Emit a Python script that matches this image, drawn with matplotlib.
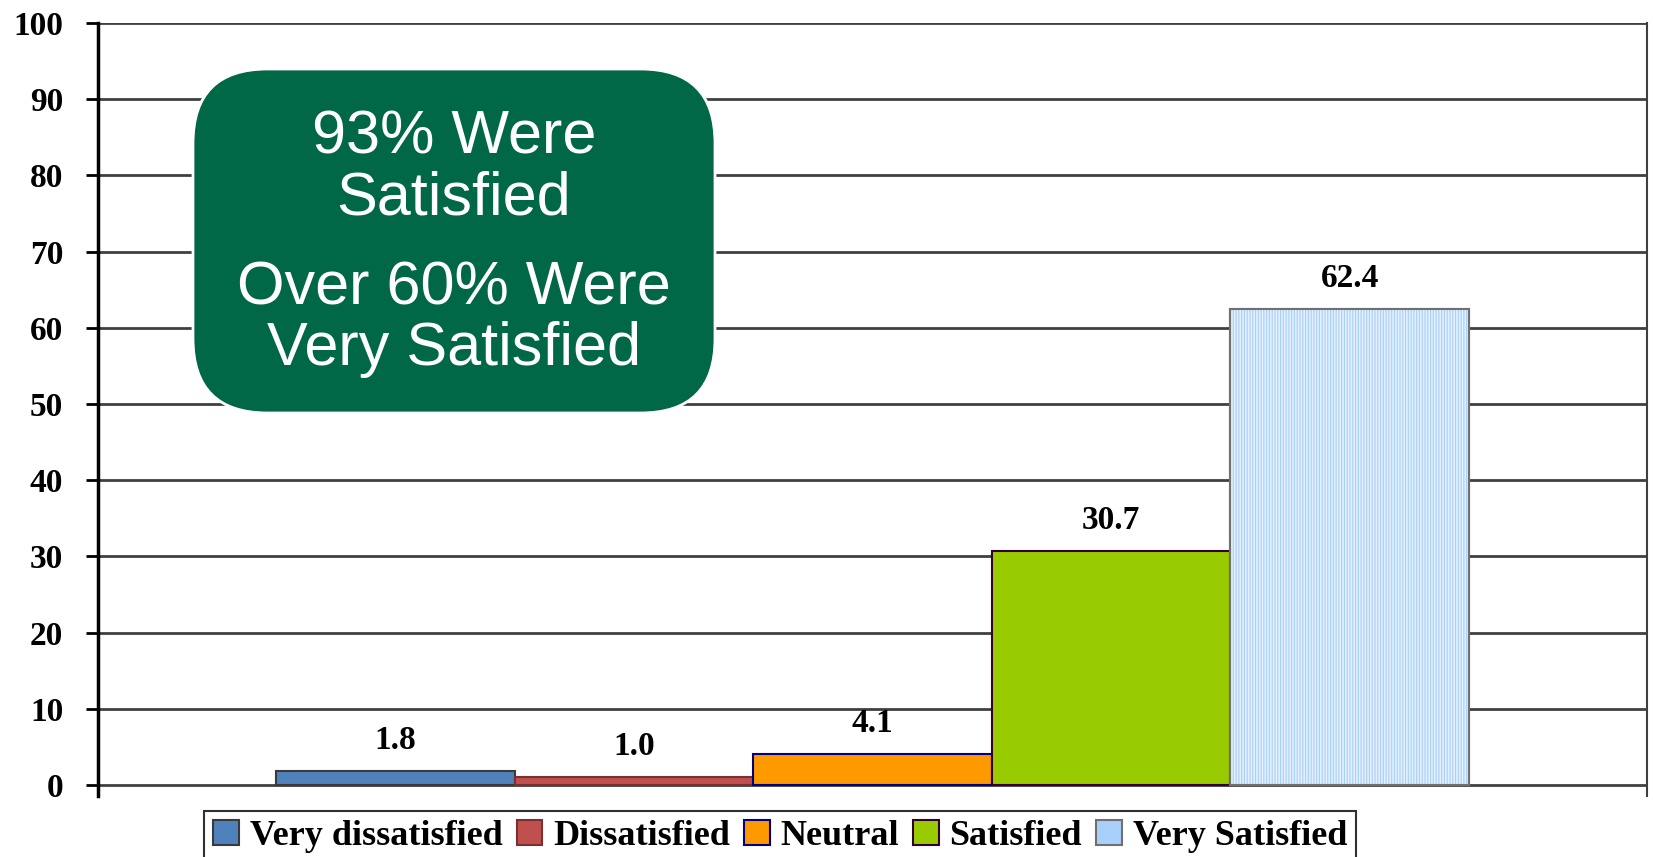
import matplotlib.pyplot as plt
from matplotlib.patches import FancyBboxPatch

# survey responses (%)
categories = ['Very dissatisfied', 'Dissatisfied', 'Neutral', 'Satisfied', 'Very Satisfied']
values = [1.8, 1.0, 4.1, 30.7, 62.4]
value_labels = ['1.8', '1.0', '4.1', '30.7', '62.4']
y_ticks = [0, 10, 20, 30, 40, 50, 60, 70, 80, 90, 100]
callout_lines = ['93% Were', 'Satisfied', 'Over 60% Were', 'Very Satisfied']

face_colors = ['#4F81BD', '#C0504D', '#FF9900', '#99CC00', '#A8D0FA']
edge_colors = ['#3A3A3A', '#7A3030', '#000080', '#330033', '#707070']

serif = 'Liberation Serif'
plt.rcParams['hatch.linewidth'] = 1.2

fig = plt.figure(figsize=(16.53, 8.57), dpi=100)
ax = fig.add_axes([0.0593, 0.0712, 0.9371, 0.902])

width = 0.154
for i, (cat, val) in enumerate(zip(categories, values)):
    x = (i - 2) * width
    ax.bar(x, val, width=width, color=face_colors[i], edgecolor=edge_colors[i],
           linewidth=1.5, label=cat, zorder=3)
    if i == 4:
        # dotted texture of the last bar
        ax.bar(x, val, width=width, color='none', edgecolor='#E4F0FC', hatch='||||||',
               linewidth=0, zorder=3.5)
        ax.bar(x, val, width=width, color='none', edgecolor=edge_colors[i],
               linewidth=1.5, zorder=4)
    ax.annotate(value_labels[i], (x, val), xytext=(0, 22), textcoords='offset points',
                ha='center', va='center', fontsize=24, fontweight='bold',
                family=serif, zorder=5)

ax.set_xlim(-0.5, 0.5)
ax.set_ylim(-1.44, 100)
ax.set_yticks(y_ticks)
ax.set_xticks([])
ax.yaxis.grid(True, color='#404040', linewidth=2, zorder=1)
ax.tick_params(axis='y', direction='out', length=9, width=2, pad=16, color='black')
for lbl in ax.get_yticklabels():
    lbl.set_fontfamily(serif)
    lbl.set_fontweight('bold')
    lbl.set_fontsize(24)
ax.spines['top'].set_visible(False)
ax.spines['bottom'].set_visible(False)
ax.spines['left'].set_linewidth(2.5)
ax.spines['right'].set_linewidth(1.5)
ax.spines['right'].set_color('#404040')

leg = fig.legend(loc='upper center', bbox_to_anchor=(0.472, 0.075), ncol=5,
                 prop={'family': serif, 'weight': 'bold', 'size': 26},
                 handlelength=0.7, handleheight=0.7, handletextpad=0.3,
                 columnspacing=0.4, borderpad=0.25, fancybox=False,
                 edgecolor='#303030', framealpha=1)
leg.get_frame().set_linewidth(1.5)

# green callout box
box = FancyBboxPatch((193 / 1653, 1 - 413 / 857), (715 - 193) / 1653, (413 - 69) / 857,
                     boxstyle='round,pad=0,rounding_size=0.045', transform=fig.transFigure,
                     facecolor='#006747', edgecolor='white', linewidth=2, zorder=10,
                     mutation_aspect=1653 / 857)
fig.patches.append(box)
line_y = [138, 199, 289, 349]
for txt, yy in zip(callout_lines, line_y):
    fig.text(454 / 1653, 1 - yy / 857, txt, ha='center', va='center', color='white',
             fontsize=44, family='Liberation Sans', zorder=11)

fig.savefig('out.png', dpi=100)
